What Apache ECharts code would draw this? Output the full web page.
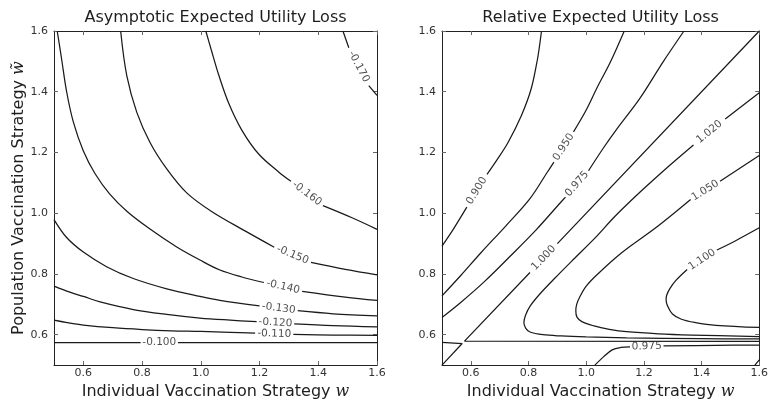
<!DOCTYPE html>
<html><head><meta charset="utf-8">
<script src="https://cdn.jsdelivr.net/npm/echarts@6/dist/echarts.min.js"></script>
<style>html,body{margin:0;padding:0;background:#fff}#c{width:771px;height:405px}</style>
</head><body><div id="c"></div>
<script>
// ---- axis ticks ----
const ticks = [0.6, 0.8, 1.0, 1.2, 1.4, 1.6];
const tickLabels = ['0.6', '0.8', '1.0', '1.2', '1.4', '1.6'];

// ---- Asymptotic Expected Utility Loss: contour lines (null = label gap) ----
const asymM100 = [[0.5,0.574],[0.795,0.574],null,[0.922,0.574],[1.6,0.574]];
const asymM110 = [[0.5,0.648],[0.55,0.639],[0.6,0.632],[0.7,0.623],[0.8,0.617],[0.9,0.613],[1.0,0.611],[1.1,0.608],[1.185,0.605],null,[1.315,0.601],[1.45,0.599],[1.6,0.598]];
const asymM120 = [[0.5,0.76],[0.554,0.74],[0.6,0.726],[0.657,0.708],[0.77,0.683],[0.884,0.667],[0.997,0.655],[1.1,0.648],[1.19,0.643],null,[1.318,0.636],[1.45,0.63],[1.6,0.626]];
const asymM130 = [[0.5,0.979],[0.543,0.92],[0.6,0.872],[0.679,0.824],[0.77,0.785],[0.884,0.751],[0.997,0.726],[1.065,0.713],[1.2,0.695],null,[1.33,0.679],[1.45,0.669],[1.6,0.662]];
const asymM140 = [[0.511,1.6],[0.526,1.507],[0.543,1.4],[0.566,1.3],[0.6,1.205],[0.64,1.13],[0.69,1.063],[0.75,1.005],[0.827,0.948],[0.918,0.889],[0.997,0.846],[1.065,0.813],[1.14,0.79],[1.215,0.772],null,[1.345,0.743],[1.492,0.724],[1.6,0.713]];
const asymM150 = [[0.727,1.6],[0.748,1.452],[0.782,1.332],[0.827,1.233],[0.884,1.146],[0.952,1.067],[1.038,1.005],[1.152,0.941],[1.25,0.888],null,[1.375,0.838],[1.492,0.815],[1.6,0.797]];
const asymM160 = [[1.017,1.6],[1.035,1.54],[1.061,1.455],[1.095,1.362],[1.14,1.273],[1.197,1.195],[1.265,1.136],[1.307,1.105],null,[1.416,1.025],[1.515,0.985],[1.6,0.947]];
const asymM170 = [[1.484,1.6],[1.504,1.545],null,[1.572,1.42],[1.6,1.388]];
const asymLevels = ['-0.100','-0.110','-0.120','-0.130','-0.140','-0.150','-0.160','-0.170'];

// ---- Relative Expected Utility Loss: contour lines ----
const rel900 = [[0.845,1.6],[0.838,1.55],[0.831,1.507],[0.809,1.409],[0.775,1.321],[0.729,1.233],[0.69,1.175],[0.656,1.128],null,[0.586,1.02],[0.539,0.947],[0.5,0.892]];
const rel950 = [[1.132,1.6],[1.083,1.496],[1.038,1.414],[1.0,1.34],[0.956,1.268],null,[0.888,1.168],[0.865,1.135],[0.805,1.048],[0.72,0.957],[0.635,0.87],[0.565,0.795],[0.5,0.728]];
const rel975a = [[1.339,1.6],[1.265,1.496],[1.186,1.378],[1.106,1.277],[1.059,1.214],[1.008,1.14],null,[0.928,1.053],[0.908,1.032],[0.828,0.947],[0.737,0.859],[0.646,0.774],[0.567,0.708],[0.5,0.657]];
const rel975b = [[1.03,0.5],[1.06,0.527],[1.09,0.55],[1.12,0.558],[1.152,0.56],null,[1.268,0.563],[1.45,0.565],[1.6,0.566]];
const rel1000a = [[1.6,1.6],[0.9,0.9],null,[0.805,0.805],[0.578,0.579],[1.6,0.578]];
const rel1000b = [[0.5,0.5],[0.57,0.571],[0.5,0.575]];
const rel1020 = [[1.6,1.397],[1.482,1.31],null,[1.372,1.225],[1.28,1.15],[1.186,1.069],[1.1,0.99],[1.03,0.918],[0.96,0.852],[0.891,0.786],[0.84,0.735],[0.806,0.695],[0.79,0.665],[0.784,0.64],[0.79,0.622],[0.805,0.609],[0.85,0.6],[0.913,0.596],[1.0,0.593],[1.14,0.59],[1.4,0.587],[1.6,0.586]];
const rel1050 = [[1.6,1.19],[1.464,1.105],null,[1.362,1.045],[1.248,0.957],[1.123,0.87],[1.04,0.8],[1.0,0.76],[0.978,0.725],[0.967,0.7],[0.964,0.678],[0.968,0.658],[0.985,0.643],[1.027,0.629],[1.08,0.618],[1.14,0.61],[1.25,0.603],[1.367,0.599],[1.6,0.594]];
const rel1100 = [[1.6,0.952],[1.515,0.908],[1.453,0.879],null,[1.35,0.815],[1.311,0.779],[1.29,0.752],[1.279,0.73],[1.277,0.715],[1.282,0.695],[1.299,0.668],[1.33,0.651],[1.379,0.64],[1.45,0.631],[1.6,0.624]];
const relCorner = [[1.585,0.5],[1.6,0.517]];

const asymCurves = [asymM100, asymM110, asymM120, asymM130, asymM140, asymM150, asymM160, asymM170];
const relCurves = [rel900, rel950, rel975a, rel975b, rel1000a, rel1000b, rel1020, rel1050, rel1100, relCorner];
const relLevels = ['0.900','0.950','0.975','0.975','1.000',null,'1.020','1.050','1.100',null];
const relSharp = [rel1000a, rel1000b, relCorner];

const LINE = '#1a1a1a', FRAME = '#222', TXT = '#1e1e1e', TICKTXT = '#333';
const FONT = 'DejaVu Sans';

const chart = echarts.init(document.getElementById('c'), null, {renderer: 'canvas'});

function fmt(v) { return tickLabels[Math.round((v - 0.6) / 0.2)] || ''; }

function xAx(grid, pos, name, gap) {
  const bottom = pos === 'bottom';
  return {
    gridIndex: grid, type: 'value', min: 0.5, max: 1.6, position: pos,
    name: name, nameLocation: 'middle', nameGap: gap,
    nameTextStyle: {fontSize: 16, color: TXT, fontFamily: FONT,
      rich: {w: {fontSize: 16, color: TXT, fontFamily: 'DejaVu Serif', fontStyle: 'italic'}}},
    axisLine: {show: true, onZero: false, lineStyle: {color: FRAME, width: 1}},
    axisTick: {show: true, inside: true, length: 4, customValues: ticks, lineStyle: {color: '#666'}},
    axisLabel: {show: bottom, customValues: ticks, formatter: fmt, fontSize: 11, color: TICKTXT, fontFamily: FONT, margin: 3},
    splitLine: {show: false}
  };
}
function yAx(grid, pos, name, gap) {
  const left = pos === 'left';
  return {
    gridIndex: grid, type: 'value', min: 0.5, max: 1.6, position: pos,
    name: name, nameLocation: 'middle', nameGap: gap,
    nameTextStyle: {fontSize: 16, color: TXT, fontFamily: FONT,
      rich: {w: {fontSize: 16, color: TXT, fontFamily: 'DejaVu Serif', fontStyle: 'italic'}}},
    axisLine: {show: true, onZero: false, lineStyle: {color: FRAME, width: 1}},
    axisTick: {show: true, inside: true, length: 4, customValues: ticks, lineStyle: {color: '#666'}},
    axisLabel: {show: left, customValues: ticks, formatter: fmt, fontSize: 11, color: TICKTXT, fontFamily: FONT, margin: 6},
    splitLine: {show: false}
  };
}

function lineSeries(pts, ax) {
  return {
    type: 'line', xAxisIndex: ax, yAxisIndex: ax, symbol: 'none', showSymbol: false,
    connectNulls: false, silent: true, animation: false,
    smooth: relSharp.indexOf(pts) >= 0 ? false : 0.35,
    lineStyle: {color: LINE, width: 1.25},
    data: pts.map(p => p ? p : ['-', '-'])
  };
}

const series = [];
asymCurves.forEach(c => series.push(lineSeries(c, 0)));
relCurves.forEach(c => series.push(lineSeries(c, 2)));

const option = {
  animation: false,
  backgroundColor: '#fff',
  grid: [
    {left: 54, top: 31, width: 323, height: 335},
    {left: 442, top: 31, width: 323, height: 335}
  ],
  xAxis: [
    xAx(0, 'bottom', 'Individual Vaccination Strategy {w|w}', 14),
    xAx(0, 'top', 'Asymptotic Expected Utility Loss', 5),
    xAx(1, 'bottom', 'Individual Vaccination Strategy {w|w}', 14),
    xAx(1, 'top', 'Relative Expected Utility Loss', 5)
  ],
  yAxis: [
    yAx(0, 'left', 'Population Vaccination Strategy {w|w\u0303}', 25),
    yAx(0, 'right', '', 0),
    yAx(1, 'left', '', 0),
    yAx(1, 'right', '', 0)
  ],
  series: series
};
chart.setOption(option);

function labelData(curves, levels, ax) {
  const out = [];
  curves.forEach((pts, i) => {
    const text = levels[i];
    const k = pts.indexOf(null);
    if (!text || k < 0) return;
    const a = pts[k - 1], b = pts[k + 1];
    const pa = chart.convertToPixel({xAxisIndex: ax, yAxisIndex: ax}, a);
    const pb = chart.convertToPixel({xAxisIndex: ax, yAxisIndex: ax}, b);
    let ang = Math.atan2(-(pb[1] - pa[1]), pb[0] - pa[0]) * 180 / Math.PI;
    if (ang > 90) ang -= 180;
    if (ang < -90) ang += 180;
    out.push({name: text, value: [(a[0] + b[0]) / 2, (a[1] + b[1]) / 2], label: {rotate: ang}});
  });
  return out;
}
function labelSeries(data, ax) {
  return {
    type: 'scatter', xAxisIndex: ax, yAxisIndex: ax, symbolSize: 0.1, silent: true, z: 5,
    itemStyle: {color: 'rgba(0,0,0,0)'},
    label: {show: true, position: 'inside', formatter: '{b}', color: TXT, fontSize: 10.5, fontFamily: FONT},
    data: data
  };
}
series.push(labelSeries(labelData(asymCurves, asymLevels, 0), 0));
series.push(labelSeries(labelData(relCurves, relLevels, 2), 2));
chart.setOption({series: series});
</script>
</body></html>
